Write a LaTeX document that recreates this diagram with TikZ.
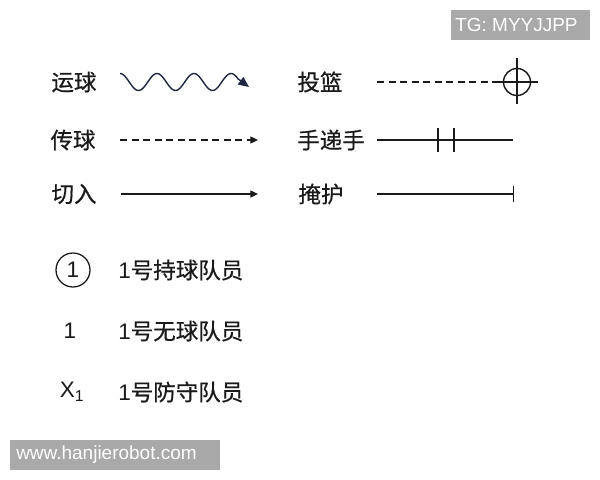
\documentclass[tikz,border=0pt]{standalone}
\usepackage{fontspec}
\setmainfont{Liberation Sans}
\newfontfamily\cjk{Noto Sans CJK SC}[UprightFeatures={FakeBold=0.6}]
\newfontfamily\wmfont{Liberation Sans}
\usetikzlibrary{arrows.meta,calc}
\definecolor{inkc}{HTML}{1A1A1A}
\definecolor{wavec}{HTML}{1E2640}
\definecolor{wmgray}{HTML}{A9A9A9}
\begin{document}
\begin{tikzpicture}[x=0.025cm, y=-0.025cm,
    lbl/.style={font=\fontsize{16}{19}\selectfont, text=inkc, inner sep=0pt},
    sym/.style={line width=1pt, draw=inkc},
    dashline/.style={sym, dash pattern=on 5pt off 3.2pt},
    tip/.style={-{Triangle[length=5.5pt,width=5pt]}},
    wm/.style={text=white, font=\wmfont\fontsize{13.5}{16}\selectfont, inner sep=0pt, anchor=west}]
  \useasboundingbox (0,0) rectangle (600,480);
  % watermarks
  \fill[wmgray] (451,10) rectangle (590,40);
  \node[wm] (tg) at (455,25) {TG: MYYJJPP};
  \fill[wmgray] (10,440) rectangle (220,470);
  \node[wm] (site) at (16,455) {www.hanjierobot.com};
  % legend labels
  \node[lbl] (dribble) at (74,82) {\cjk 运球};
  \node[lbl] (pass) at (73,140) {\cjk 传球};
  \node[lbl] (cut) at (74,194) {\cjk 切入};
  \node[lbl] (shoot) at (320,82) {\cjk 投篮};
  \node[lbl] (handoff) at (331,140) {\cjk 手递手};
  \node[lbl] (screen) at (321,194) {\cjk 掩护};
  % legend lines
  \coordinate (pass-s) at (120,140);
  \coordinate (pass-e) at (258,140);
  \coordinate (cut-s) at (121,194);
  \coordinate (cut-e) at (258,194);
  \coordinate (shoot-s) at (377,82);
  \coordinate (hoop) at (517,82);
  \coordinate (hand-s) at (377,140);
  \coordinate (hand-e) at (513,140);
  \coordinate (screen-s) at (377,194);
  \coordinate (screen-e) at (514,194);
  \coordinate (dribble-e) at (249,87);
  \draw[line width=1pt, draw=wavec, -{Triangle[length=7.5pt,width=6.5pt]}]
    plot[domain=120:238, samples=90, smooth] (\x,{82-8.5*cos(9.7297*(\x-120))}) -- (dribble-e);
  \draw[dashline, tip] (pass-s) -- (pass-e);
  \draw[sym, tip] (cut-s) -- (cut-e);
  \draw[dashline] (shoot-s) -- ($(hoop)+(-20,0)$);
  \draw[sym] (hoop) circle[radius=13.5];
  \draw[sym] ($(hoop)+(-21,0)$) -- ($(hoop)+(21,0)$);
  \draw[sym] ($(hoop)+(0,-24)$) -- ($(hoop)+(0,22)$);
  \draw[sym] (hand-s) -- (hand-e);
  \foreach \t in {438,454}
    \draw[sym] (\t,128) -- (\t,152);
  \draw[sym, -{Bar[width=12pt]}] (screen-s) -- (screen-e);
  % players
  \node[lbl, draw=inkc, circle, line width=0.9pt, minimum size=0.85cm] (ball1) at (73,270) {1};
  \node[lbl, anchor=west] (ball1-t) at (118,270) {1{\cjk 号持球队员}};
  \node[lbl] (off1) at (70,331) {1};
  \node[lbl, anchor=west] (off1-t) at (118,331) {1{\cjk 号无球队员}};
  \node[lbl] (def1) at (72,392) {X\textsubscript{1}};
  \node[lbl, anchor=west] (def1-t) at (118,392) {1{\cjk 号防守队员}};
\end{tikzpicture}
\end{document}
